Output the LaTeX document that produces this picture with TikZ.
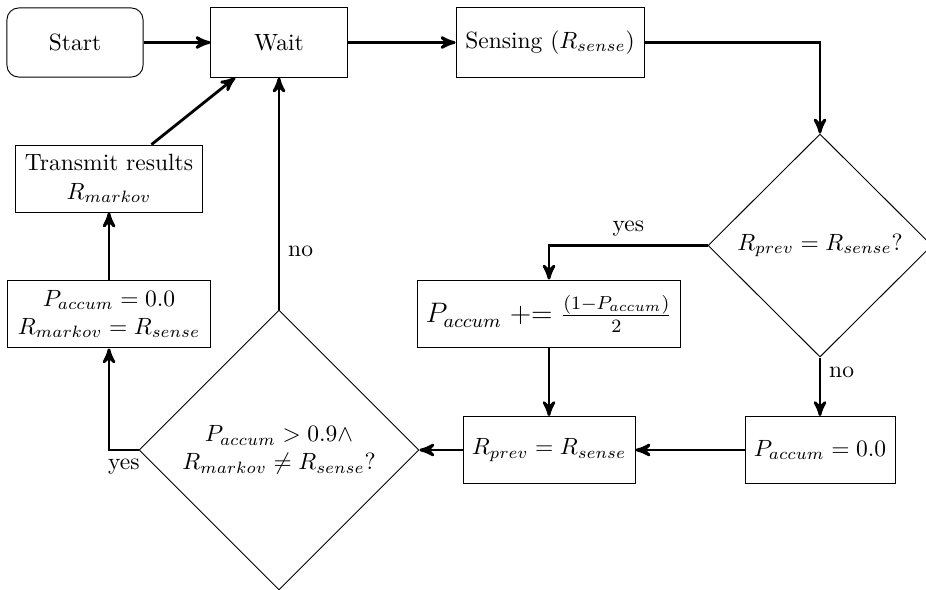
\documentclass[tikz,border=0pt]{standalone}
\usetikzlibrary{shapes.geometric, arrows}
\begin{document}
\begin{tikzpicture}[x=0.4255pt, y=-0.4255pt, >=stealth',
  box/.style={draw, rectangle, align=center, inner sep=2pt},
  startbox/.style={box, rounded corners=5pt},
  decision/.style={draw, diamond, align=center, inner sep=0pt},
  flow/.style={->, very thick}]
\useasboundingbox (0,0) rectangle (926,589);

% process steps
\node[startbox, minimum width=57.9pt, minimum height=29.4pt] (start) at (75,42.5) {Start};
\node[box, minimum width=57.9pt, minimum height=29.4pt] (wait) at (279,42.5) {Wait};
\node[box, minimum width=80pt, minimum height=29.4pt] (sense) at (550,42.5) {Sensing ($R_{sense}$)};
\node[decision, minimum width=95.3pt, minimum height=94.9pt] (d1) at (820,245.5) {$R_{prev} = R_{sense}$?};
\node[box, minimum width=112.3pt, minimum height=28.9pt, font=\large] (pplus) at (549,314) {$P_{accum} \mathrel{+}= \frac{(1-P_{accum})}{2}$};
\node[box, minimum width=63.8pt, minimum height=28.5pt] (p0) at (820,450) {$P_{accum} = 0.0$};
\node[box, minimum width=73.2pt, minimum height=28.5pt] (rprev) at (549,450) {$R_{prev} = R_{sense}$};
\node[decision, minimum width=119.1pt, minimum height=119.1pt] (d2) at (279,450) {$P_{accum} > 0.9 \wedge$\\$R_{markov} \neq R_{sense}$?};
\node[box, minimum width=86pt, minimum height=28.9pt] (pr) at (109,314) {$P_{accum} = 0.0$\\$R_{markov} = R_{sense}$};
\node[box, minimum width=79.6pt, minimum height=28.5pt] (transmit) at (109,178.5) {Transmit results\\$R_{markov}$};

% connectors
\draw[flow] (start) -- (wait);
\draw[flow] (wait) -- (sense);
\draw[flow] (sense) -| (d1);
\draw[flow] (d1) -| node[near start, above] {yes} (pplus);
\draw[flow] (d1) -- node[near start, right] {no} (p0);
\draw[flow] (pplus) -- (rprev);
\draw[flow] (p0) -- (rprev);
\draw[flow] (rprev) -- (d2);
\draw[flow] (d2) -| node[near start, below] {yes} (pr);
\draw[flow] (d2) -- node[near start, right] {no} (wait);
\draw[flow] (pr) -- (transmit);
\draw[flow] (transmit) -- (wait);
\end{tikzpicture}
\end{document}
